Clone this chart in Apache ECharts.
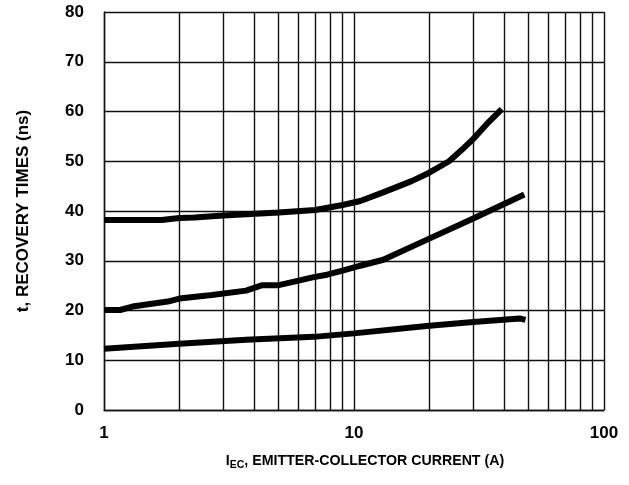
<!DOCTYPE html>
<html>
<head>
<meta charset="utf-8">
<script src="https://cdn.jsdelivr.net/npm/echarts@6/dist/echarts.min.js"></script>
<style>html,body{margin:0;padding:0;background:#fff}#c{width:629px;height:485px}</style>
</head>
<body>
<div id="c"></div>
<script>
// Top curve
var topX = [1, 1.7, 2, 2.3, 3, 5, 7, 9, 10.6, 13, 17, 20, 24, 27, 30, 34, 39];
var topY = [38.2, 38.2, 38.6, 38.7, 39.1, 39.7, 40.2, 41.2, 42, 43.7, 46, 47.7, 50, 52.3, 54.5, 57.5, 60.5];
// Middle curve
var midX = [1, 1.16, 1.3, 1.8, 2.0, 2.7, 3.7, 4.3, 5.0, 6.0, 6.9, 7.8, 9, 10.6, 13.1, 19.5, 30, 48];
var midY = [20.1, 20.1, 20.8, 21.8, 22.4, 23.1, 24.0, 25.1, 25.1, 26.0, 26.7, 27.2, 28.0, 29.0, 30.2, 34.2, 38.5, 43.3];
// Bottom curve
var botX = [1, 2, 3.7, 6.9, 10, 19.5, 30, 46, 48.5];
var botY = [12.3, 13.3, 14.1, 14.7, 15.4, 16.9, 17.7, 18.4, 18.1];
// Minor vertical grid lines (log decades)
var minorGridX = [2, 3, 4, 5, 6, 7, 8, 9, 20, 30, 40, 50, 60, 70, 80, 90];

function pairs(xs, ys) { return xs.map(function (x, i) { return [x, ys[i]]; }); }

var FONT = '"Liberation Sans", Arial, sans-serif';
var lineStyle = { color: '#000', width: 6 };
var GL = { color: '#111', width: 1.4 };

var chart = echarts.init(document.getElementById('c'), null, { renderer: 'canvas' });
chart.setOption({
  animation: false,
  backgroundColor: '#fff',
  grid: { left: 104, right: 25, top: 12, bottom: 75 },
  xAxis: {
    type: 'log', logBase: 10, min: 1, max: 100,
    axisLine: { show: true, lineStyle: GL },
    axisTick: { show: false },
    splitLine: { show: true, lineStyle: GL },
    axisLabel: { color: '#000', fontWeight: 'bold', fontSize: 17, fontFamily: FONT, margin: 15 },
    name: '{i|I}{sub|EC}{n|, EMITTER-COLLECTOR CURRENT (A)}',
    nameLocation: 'middle', nameGap: 42,
    nameTextStyle: {
      color: '#000', fontFamily: FONT, fontWeight: 'bold', fontSize: 14.2, padding: [0, 0, 0, 22],
      rich: {
        i: { fontSize: 14.2, fontWeight: 'bold', fontFamily: FONT, color: '#000', lineHeight: 18, verticalAlign: 'middle' },
        sub: { fontSize: 10.5, fontWeight: 'bold', fontFamily: FONT, color: '#000', padding: [8, 0, 0, 0], lineHeight: 18 },
        n: { fontSize: 14.2, fontWeight: 'bold', fontFamily: FONT, color: '#000', lineHeight: 18, verticalAlign: 'middle' }
      }
    }
  },
  yAxis: {
    type: 'value', min: 0, max: 80, interval: 10,
    axisLine: { show: true, lineStyle: GL },
    axisTick: { show: false },
    splitLine: { show: true, lineStyle: GL },
    axisLabel: { color: '#000', fontWeight: 'bold', fontSize: 17, fontFamily: FONT, margin: 20 },
    name: 't, RECOVERY TIMES (ns)',
    nameLocation: 'middle', nameGap: 72,
    nameTextStyle: { color: '#000', fontFamily: FONT, fontWeight: 'bold', fontSize: 17 }
  },
  series: [
    {
      type: 'line', data: pairs(topX, topY), symbol: 'none', lineStyle: lineStyle, z: 5,
      markLine: {
        silent: true, symbol: 'none', label: { show: false },
        lineStyle: { color: '#111', width: 1.4, type: 'solid' },
        data: minorGridX.map(function (v) { return { xAxis: v }; }),
        z: 1
      }
    },
    { type: 'line', data: pairs(midX, midY), symbol: 'none', lineStyle: lineStyle, z: 5 },
    { type: 'line', data: pairs(botX, botY), symbol: 'none', lineStyle: lineStyle, z: 5 }
  ]
});
</script>
</body>
</html>
